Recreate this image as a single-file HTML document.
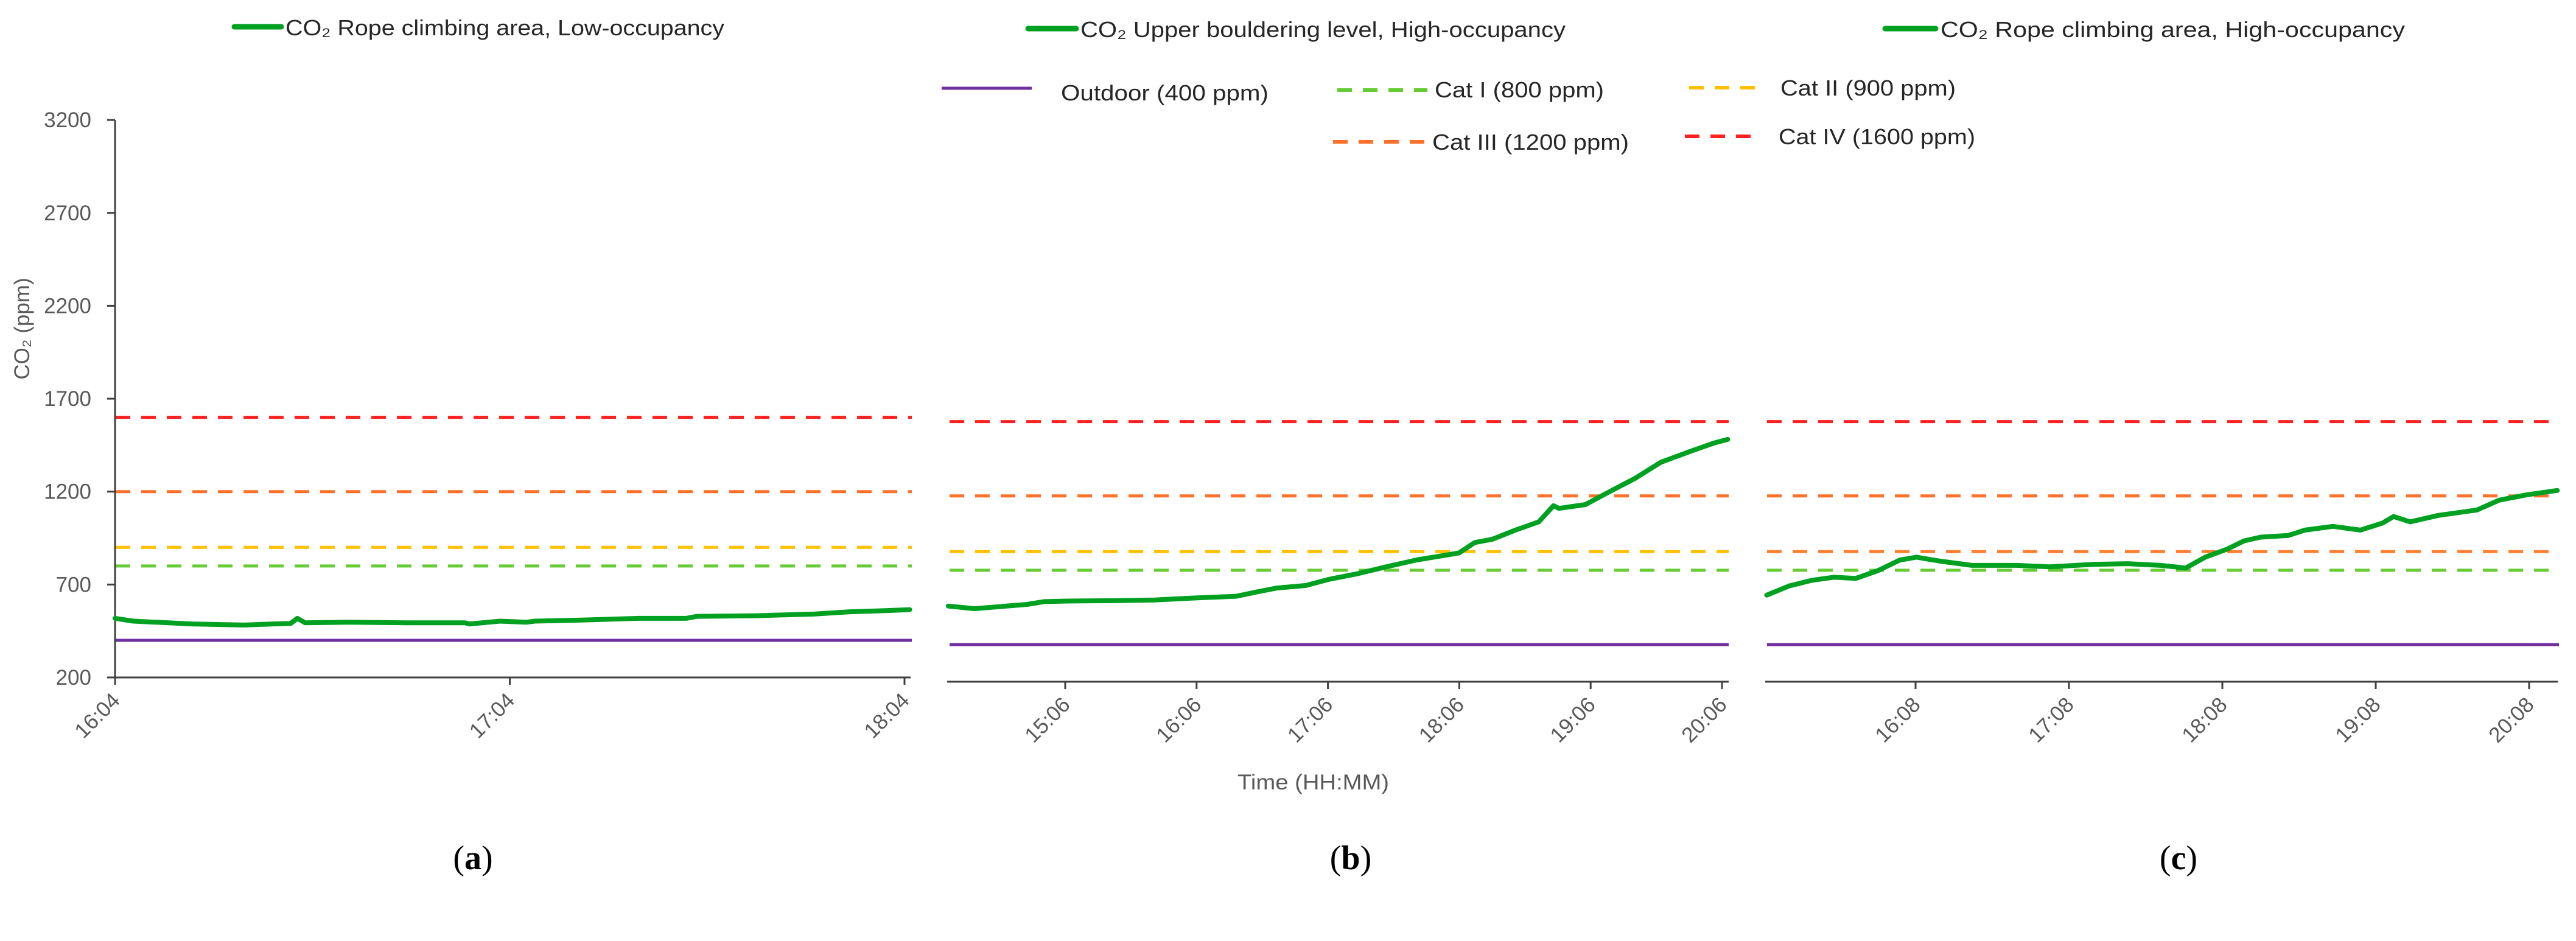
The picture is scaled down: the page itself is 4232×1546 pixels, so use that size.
<!DOCTYPE html>
<html><head><meta charset="utf-8"><style>
html,body{margin:0;padding:0;background:#fff;}
svg{display:block;font-family:"Liberation Sans",sans-serif;}
</style></head><body>
<svg id="chart" width="4232" height="1546" viewBox="0 0 4232 1546" xmlns="http://www.w3.org/2000/svg">
<g id="legends">
  <g>
    <line x1="385" y1="44" x2="462" y2="44" stroke="#00a020" stroke-width="9" stroke-linecap="round"/>
    <text x="469" y="58" font-size="36" fill="#262626" textLength="721" lengthAdjust="spacingAndGlyphs">CO₂ Rope climbing area, Low-occupancy</text>
  </g>
  <g>
    <line x1="1689" y1="47" x2="1768" y2="47" stroke="#00a020" stroke-width="9" stroke-linecap="round"/>
    <text x="1775" y="61" font-size="36" fill="#262626" textLength="797" lengthAdjust="spacingAndGlyphs">CO₂ Upper bouldering level, High-occupancy</text>
  </g>
  <g>
    <line x1="3097" y1="47" x2="3180" y2="47" stroke="#00a020" stroke-width="9" stroke-linecap="round"/>
    <text x="3188" y="61" font-size="36" fill="#262626" textLength="763" lengthAdjust="spacingAndGlyphs">CO₂ Rope climbing area, High-occupancy</text>
  </g>
  <g>
    <line x1="1547" y1="145" x2="1695" y2="145" stroke="#7030a0" stroke-width="5"/>
    <text x="1743" y="165" font-size="36" fill="#262626" textLength="341" lengthAdjust="spacingAndGlyphs">Outdoor (400 ppm)</text>
  </g>
  <g>
    <line x1="2197" y1="148" x2="2345" y2="148" stroke="#66cc33" stroke-width="6" stroke-dasharray="24 18"/>
    <text x="2357" y="160" font-size="36" fill="#262626" textLength="278" lengthAdjust="spacingAndGlyphs">Cat I (800 ppm)</text>
  </g>
  <g>
    <line x1="2190" y1="233" x2="2340" y2="233" stroke="#ff7028" stroke-width="6" stroke-dasharray="24 18"/>
    <text x="2353" y="246" font-size="36" fill="#262626" textLength="323" lengthAdjust="spacingAndGlyphs">Cat III (1200 ppm)</text>
  </g>
  <g>
    <line x1="2775" y1="144" x2="2885" y2="144" stroke="#ffc000" stroke-width="6" stroke-dasharray="24 18"/>
    <text x="2925" y="157" font-size="36" fill="#262626" textLength="288" lengthAdjust="spacingAndGlyphs">Cat II (900 ppm)</text>
  </g>
  <g>
    <line x1="2768" y1="224" x2="2878" y2="224" stroke="#ff2020" stroke-width="6" stroke-dasharray="24 18"/>
    <text x="2922" y="237" font-size="36" fill="#262626" textLength="323" lengthAdjust="spacingAndGlyphs">Cat IV (1600 ppm)</text>
  </g>
</g>
<text x="0" y="0" transform="translate(48,540) rotate(-90)" text-anchor="middle" font-size="35" fill="#595959">CO₂ (ppm)</text>
<text x="2033" y="1297" font-size="35" fill="#595959" textLength="249" lengthAdjust="spacingAndGlyphs">Time (HH:MM)</text>
<text x="777" y="1428" text-anchor="middle" font-size="56" fill="#000" font-family="Liberation Serif, serif">(<tspan font-weight="bold">a</tspan>)</text>
<text x="2219" y="1428" text-anchor="middle" font-size="56" fill="#000" font-family="Liberation Serif, serif">(<tspan font-weight="bold">b</tspan>)</text>
<text x="3579" y="1428" text-anchor="middle" font-size="56" fill="#000" font-family="Liberation Serif, serif">(<tspan font-weight="bold">c</tspan>)</text>
</svg>
<script>
// Data (time in minutes since midnight, values in ppm)
const yTicks = [200, 700, 1200, 1700, 2200, 2700, 3200];
const refValues = [400, 800, 900, 1200, 1600];
const ticksA = ["16:04", "17:04", "18:04"];
const ticksB = ["15:06", "16:06", "17:06", "18:06", "19:06", "20:06"];
const ticksC = ["16:08", "17:08", "18:08", "19:08", "20:08"];
const timeA = [964, 966.8, 975.7, 983.6, 988, 990.7, 991.7, 992.9, 999.5, 1008.4, 1017.2, 1017.9, 1022.5, 1026.5, 1027.8, 1034.9, 1043.7, 1050.8, 1052.5, 1061.4, 1070.2, 1075.5, 1080.8, 1084.8];
const co2A = [518, 503, 488, 482, 488, 491, 518, 494, 497, 494, 494, 488, 503, 497, 503, 509, 518, 518, 529, 532, 541, 553, 559, 565];
const timeB = [852.6, 864.5, 888.5, 896.4, 907, 928.3, 946.9, 966.3, 984.1, 994.8, 1002.7, 1016, 1026.1, 1039.9, 1053.2, 1066.5, 1085.9, 1093.1, 1101, 1111.7, 1122.3, 1129, 1131.6, 1143.6, 1154.2, 1166.1, 1178.1, 1191.4, 1202, 1208.6];
const co2B = [607, 593, 616, 631, 634, 636, 640, 651, 660, 686, 704, 718, 750, 782, 820, 855, 893, 949, 966, 1016, 1060, 1147, 1133, 1153, 1220, 1293, 1381, 1439, 1483, 1504];
const timeC = [909.8, 918.5, 927.2, 935.9, 944.6, 953.2, 961.9, 968.4, 977.1, 990.1, 1007.5, 1020.5, 1037.9, 1050.9, 1063.9, 1073.7, 1081.3, 1090, 1096.5, 1103, 1113.8, 1120.3, 1131.2, 1142, 1150.7, 1155, 1161.5, 1172.4, 1187.6, 1196.3, 1207.1, 1219];
const co2C = [666, 715, 745, 762, 756, 797, 855, 870, 850, 826, 826, 818, 832, 835, 826, 812, 870, 914, 958, 978, 987, 1016, 1036, 1016, 1054, 1089, 1060, 1095, 1124, 1177, 1206, 1229];

const NS = "http://www.w3.org/2000/svg";
const svg = document.getElementById("chart");
function mk(tag, attrs, parent) {
  const e = document.createElementNS(NS, tag);
  for (const k in attrs) e.setAttribute(k, attrs[k]);
  (parent || svg).appendChild(e);
  return e;
}
function toMin(s) { const p = s.split(":"); return +p[0] * 60 + +p[1]; }
const PPM = 0.3053;
const panels = [
  {id: "a", ax0: 189, ax1: 1496, base: 1113, refT: 964, refX: 189, pxMin: 1297 / 120, ticks: ticksA, t: timeA, v: co2A, yAxis: true,
   refColors: ["#7030a0", "#66cc33", "#ffc000", "#ff7028", "#ff2020"], rx0: 190, rx1: 1498},
  {id: "b", ax0: 1556, ax1: 2840, base: 1120, refT: 906, refX: 1750, pxMin: 1079 / 300, ticks: ticksB, t: timeB, v: co2B, yAxis: false,
   refColors: ["#7030a0", "#66cc33", "#ffc000", "#ff7028", "#ff2020"], rx0: 1560, rx1: 2840},
  {id: "c", ax0: 2900, ax1: 4202, base: 1120, refT: 968, refX: 3147, pxMin: 1008 / 240, ticks: ticksC, t: timeC, v: co2C, yAxis: false,
   refColors: ["#7030a0", "#66cc33", "#ff8030", "#ff7028", "#ff2020"], rx0: 2903, rx1: 4204}
];
panels.forEach(p => {
  const g = mk("g", {});
  
  
  const xs = t => p.refX + (t - p.refT) * p.pxMin;
  const ys = v => p.base - (v - 200) * PPM;
  refValues.forEach((rv, i) => {
    const l = mk("line", {x1: p.rx0, x2: p.rx1, y1: ys(rv), y2: ys(rv), stroke: p.refColors[i], "stroke-width": 5,
      "stroke-dasharray": i === 0 ? "none" : "24 18"}, g);
    
    
  });
  const xa = mk("line", {x1: p.ax0, x2: p.ax1, y1: p.base, y2: p.base, stroke: "#404040", "stroke-width": 3}, g);
  
  
  p.ticks.forEach(tk => {
    const x = xs(toMin(tk));
    const tl = mk("line", {x1: x, x2: x, y1: p.base, y2: p.base + 12, stroke: "#404040", "stroke-width": 3}, g);
    
    
    const tx = mk("text", {x: 0, y: 0, transform: "translate(" + (x + 10) + "," + (p.base + 40) + ") rotate(-45)", "text-anchor": "end",
      "font-size": 35, fill: "#595959"}, g);
    tx.textContent = tk;
    
    
  });
  if (p.yAxis) {
    const ya = mk("line", {x1: p.ax0, x2: p.ax0, y1: ys(3200), y2: p.base + 12, stroke: "#404040", "stroke-width": 3}, g);
    
    
    yTicks.forEach(v => {
      const tl = mk("line", {x1: p.ax0 - 13, x2: p.ax0, y1: ys(v), y2: ys(v), stroke: "#404040", "stroke-width": 3}, g);
      
      
      const tx = mk("text", {x: 150, y: ys(v) + 12, "text-anchor": "end", "font-size": 35, fill: "#595959"}, g);
      tx.textContent = v;
      
      
    });
  }
  const d = p.t.map((t, i) => (i ? "L" : "M") + xs(t).toFixed(1) + "," + ys(p.v[i]).toFixed(1)).join(" ");
  const path = mk("path", {d: d, fill: "none", stroke: "#00a020", "stroke-width": 8, "stroke-linejoin": "round", "stroke-linecap": "round"}, g);
  
  
});
</script>
</body></html>
